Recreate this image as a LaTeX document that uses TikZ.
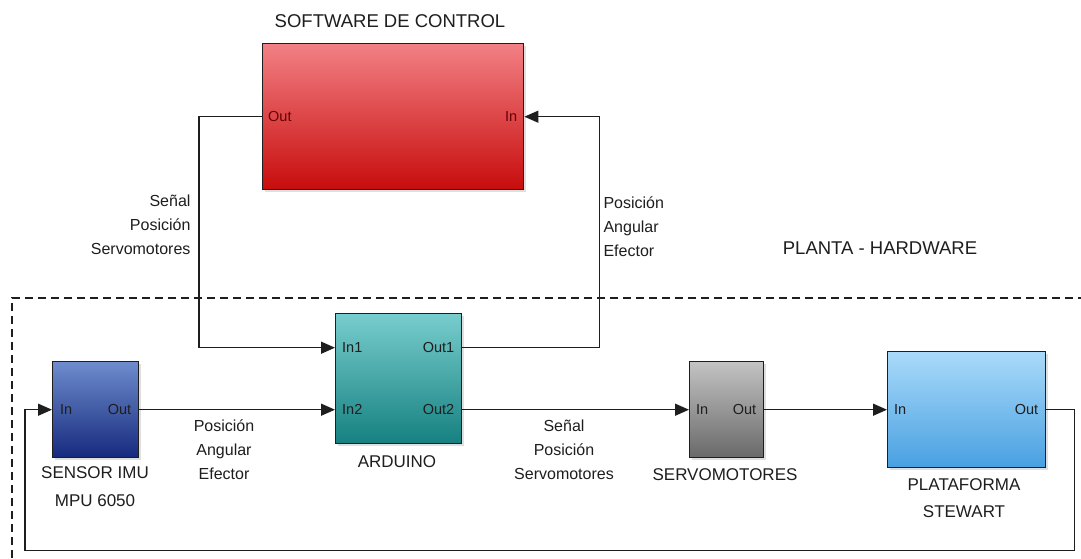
\documentclass[tikz,border=0pt]{standalone}
\usepackage{fontspec}
\setmainfont{Liberation Sans}
\usetikzlibrary{arrows.meta,calc,shadows}
\definecolor{redtop}{RGB}{242,128,132}
\definecolor{redbot}{RGB}{200,12,12}
\definecolor{teatop}{RGB}{120,205,205}
\definecolor{teabot}{RGB}{22,128,128}
\definecolor{sentop}{RGB}{110,140,205}
\definecolor{senbot}{RGB}{22,42,125}
\definecolor{srvtop}{RGB}{195,195,195}
\definecolor{srvbot}{RGB}{105,105,105}
\definecolor{stwtop}{RGB}{170,218,250}
\definecolor{stwbot}{RGB}{72,160,225}
\definecolor{ink}{RGB}{30,30,30}
\begin{document}
\begin{tikzpicture}[x=1pt,y=-1pt,
  blk/.style={draw=ink, line width=1.4pt, anchor=north west, inner sep=0pt,
    drop shadow={opacity=0.25, shadow xshift=2pt, shadow yshift=-2pt}},
  port/.style={font=\fontsize{14.5}{16}\selectfont, inner sep=0pt, text=ink},
  lbl/.style={font=\fontsize{16}{24}\selectfont, align=center, text=ink},
  conn/.style={line width=1.4pt, draw=ink},
  arr/.style={conn, -{Triangle[length=14pt,width=12pt]}},
  zone/.style={line width=1.2pt, draw=ink, dash pattern=on 8pt off 5pt}]
\useasboundingbox (0,0) rectangle (1081,558);
\fill[white] (0,0) rectangle (1081,558);

% blocks
\node[blk, minimum width=261pt, minimum height=146pt,
  top color=redtop, bottom color=redbot] (sw) at (262,43) {};
\node[blk, minimum width=126pt, minimum height=130pt,
  top color=teatop, bottom color=teabot] (ard) at (335,313) {};
\node[blk, minimum width=86pt, minimum height=96pt,
  top color=sentop, bottom color=senbot] (sen) at (52,361) {};
\node[blk, minimum width=74pt, minimum height=96pt,
  top color=srvtop, bottom color=srvbot] (srv) at (689,361) {};
\node[blk, minimum width=158pt, minimum height=116pt,
  top color=stwtop, bottom color=stwbot] (stw) at (887,351) {};

% ports
\coordinate (ardin1) at ($(ard.west)+(0,-31)$);
\coordinate (ardin2) at ($(ard.west)+(0,31)$);
\coordinate (ardout1) at ($(ard.east)+(0,-31)$);
\coordinate (ardout2) at ($(ard.east)+(0,31)$);

\node[port, anchor=west, text=red!40!black] (swout) at ($(sw.west)+(6,0)$) {Out};
\node[port, anchor=east, text=red!40!black] (swin) at ($(sw.east)+(-7,0)$) {In};
\node[port, anchor=west] (ardin1l) at ($(ardin1)+(7,0)$) {In1};
\node[port, anchor=west] (ardin2l) at ($(ardin2)+(7,0)$) {In2};
\node[port, anchor=east] (ardout1l) at ($(ardout1)+(-8,0)$) {Out1};
\node[port, anchor=east] (ardout2l) at ($(ardout2)+(-8,0)$) {Out2};
\node[port, anchor=west] (seninl) at ($(sen.west)+(8,0)$) {In};
\node[port, anchor=east] (senoutl) at ($(sen.east)+(-8,0)$) {Out};
\node[port, anchor=west] (srvinl) at ($(srv.west)+(7,0)$) {In};
\node[port, anchor=east] (srvoutl) at ($(srv.east)+(-8,0)$) {Out};
\node[port, anchor=west] (stwinl) at ($(stw.west)+(7,0)$) {In};
\node[port, anchor=east] (stwoutl) at ($(stw.east)+(-8,0)$) {Out};

% block names
\node[lbl, font=\fontsize{18.5}{20}\selectfont] (swname) at (390,21) {SOFTWARE DE CONTROL};
\node[lbl, font=\fontsize{17}{28}\selectfont] (senname) at (95,487) {SENSOR IMU\\MPU 6050};
\node[lbl, font=\fontsize{17}{20}\selectfont] (ardname) at (397,462) {ARDUINO};
\node[lbl, font=\fontsize{17}{20}\selectfont] (srvname) at (725,475) {SERVOMOTORES};
\node[lbl, font=\fontsize{17}{27}\selectfont] (stwname) at (964,498) {PLATAFORMA\\STEWART};
\node[lbl, font=\fontsize{18.5}{20}\selectfont] (planta) at (880,248) {PLANTA - HARDWARE};

% edge labels
\node[lbl, align=right, anchor=east] (l1) at (194,225) {Señal\\Posición\\Servomotores};
\node[lbl, align=left, anchor=west] (l2) at (600,227) {Posición\\Angular\\Efector};
\node[lbl] (l3) at (224,450) {Posición\\Angular\\Efector};
\node[lbl] (l4) at (564,450) {Señal\\Posición\\Servomotores};

% zone
\draw[zone] (12,558) -- (12,298) -- (1081,298);

% connectors
\draw[arr] (sw.west) -- ++(-63,0) |- (ardin1);
\draw[arr] (ardout1) -- ++(137,0) |- (sw.east);
\draw[arr] (sen.east) -- (ardin2);
\draw[arr] (ardout2) -- (srv.west);
\draw[arr] (srv.east) -- (stw.west);
\draw[arr] (stw.east) -- ++(28,0) -- ++(0,141) -| ($(sen.west)+(-27,0)$) -- (sen.west);
\end{tikzpicture}
\end{document}
